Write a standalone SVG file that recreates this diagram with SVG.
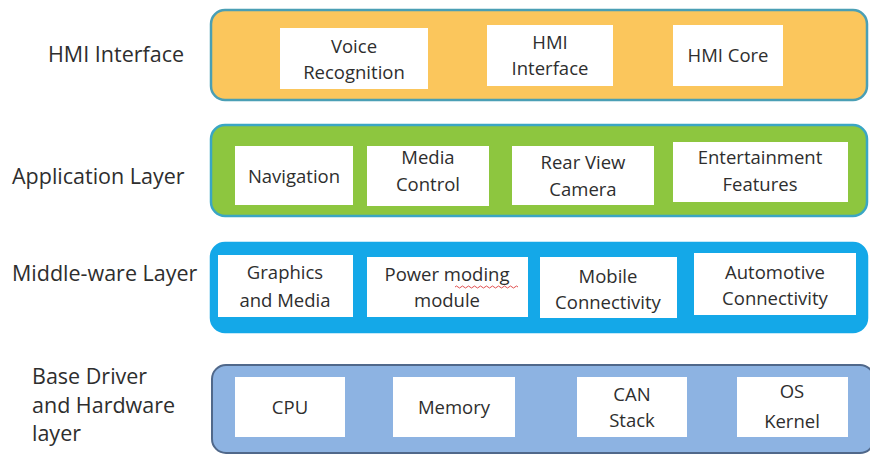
<svg xmlns="http://www.w3.org/2000/svg" width="870" height="455" viewBox="0 0 870 455">
<style>
  text { font-family: "Open Sans", "Liberation Sans", sans-serif; fill: #2e2e2e; }
  .lbl { font-size: 21.5px; }
  .in { font-size: 18.5px; text-anchor: middle; }
  .box { fill: #ffffff; stroke: none; }
  .l1 { fill: #FBC65C; stroke: #4A9FB5; stroke-width: 2.5; }
  .l2 { fill: #8DC63F; stroke: #3AA6C4; stroke-width: 2.5; }
  .l3 { fill: #14A8E8; stroke: #14A8E8; stroke-width: 2.5; }
  .l4 { fill: #8DB3E2; stroke: #50688A; stroke-width: 2; }
</style>
<rect width="870" height="455" fill="#ffffff"/>
<g id="connectors"></g>

<g id="layer-hmi">
  <text class="lbl" x="48" y="62">HMI Interface</text>
  <rect class="l1" x="211" y="10" width="656" height="90" rx="14"/>
  <g id="voice-recognition">
    <rect class="box" x="280" y="28" width="148" height="61"/>
    <text class="in" x="354" y="53">Voice</text>
    <text class="in" x="354" y="79">Recognition</text>
  </g>
  <g id="hmi-interface">
    <rect class="box" x="487" y="25" width="126" height="61"/>
    <text class="in" x="550" y="49">HMI</text>
    <text class="in" x="550" y="75">Interface</text>
  </g>
  <g id="hmi-core">
    <rect class="box" x="673" y="25" width="110" height="61"/>
    <text class="in" x="728" y="62">HMI Core</text>
  </g>
</g>

<g id="layer-application">
  <text class="lbl" x="12" y="184">Application Layer</text>
  <rect class="l2" x="211" y="125" width="656" height="91" rx="14"/>
  <g id="navigation">
    <rect class="box" x="235" y="146" width="118" height="59"/>
    <text class="in" x="294" y="183">Navigation</text>
  </g>
  <g id="media-control">
    <rect class="box" x="367" y="146" width="122" height="60"/>
    <text class="in" x="428" y="164">Media</text>
    <text class="in" x="428" y="191">Control</text>
  </g>
  <g id="rear-view-camera">
    <rect class="box" x="512" y="146" width="142" height="59"/>
    <text class="in" x="583" y="169">Rear View</text>
    <text class="in" x="583" y="196">Camera</text>
  </g>
  <g id="entertainment-features">
    <rect class="box" x="673" y="142" width="175" height="60"/>
    <text class="in" x="760" y="164">Entertainment</text>
    <text class="in" x="760" y="191">Features</text>
  </g>
</g>

<g id="layer-middleware">
  <text class="lbl" x="12" y="281">Middle-ware Layer</text>
  <rect class="l3" x="211" y="243" width="656" height="89" rx="14"/>
  <g id="graphics-media">
    <rect class="box" x="218" y="255" width="135" height="62"/>
    <text class="in" x="285" y="279">Graphics</text>
    <text class="in" x="285" y="307">and Media</text>
  </g>
  <g id="power-moding">
    <rect class="box" x="367" y="257" width="161" height="60"/>
    <text class="in" x="447" y="281">Power moding</text>
    <path d="M455 287 q1.5 -2 3 0 t3 0 t3 0 t3 0 t3 0 t3 0 t3 0 t3 0 t3 0 t3 0 t3 0 t3 0 t3 0 t3 0 t3 0 t3 0 t3 0 t3 0 t3 0 t3 0 t3 0" fill="none" stroke="#E05050" stroke-width="1"/>
    <text class="in" x="447" y="307">module</text>
  </g>
  <g id="mobile-connectivity">
    <rect class="box" x="540" y="257" width="137" height="61"/>
    <text class="in" x="608" y="283">Mobile</text>
    <text class="in" x="608" y="309">Connectivity</text>
  </g>
  <g id="automotive-connectivity">
    <rect class="box" x="694" y="253" width="162" height="62"/>
    <text class="in" x="775" y="279">Automotive</text>
    <text class="in" x="775" y="305">Connectivity</text>
  </g>
</g>

<g id="layer-base">
  <text class="lbl" x="32" y="384">Base Driver</text>
  <text class="lbl" x="32" y="413">and Hardware</text>
  <text class="lbl" x="32" y="441">layer</text>
  <rect class="l4" x="212" y="365" width="662" height="88" rx="14"/>
  <g id="cpu">
    <rect class="box" x="235" y="377" width="110" height="60"/>
    <text class="in" x="290" y="414">CPU</text>
  </g>
  <g id="memory">
    <rect class="box" x="393" y="377" width="122" height="60"/>
    <text class="in" x="454" y="414">Memory</text>
  </g>
  <g id="can-stack">
    <rect class="box" x="577" y="377" width="110" height="60"/>
    <text class="in" x="632" y="401">CAN</text>
    <text class="in" x="632" y="427">Stack</text>
  </g>
  <g id="os-kernel">
    <rect class="box" x="737" y="377" width="111" height="60"/>
    <text class="in" x="792" y="398">OS</text>
    <text class="in" x="792" y="428">Kernel</text>
  </g>
</g>
</svg>
